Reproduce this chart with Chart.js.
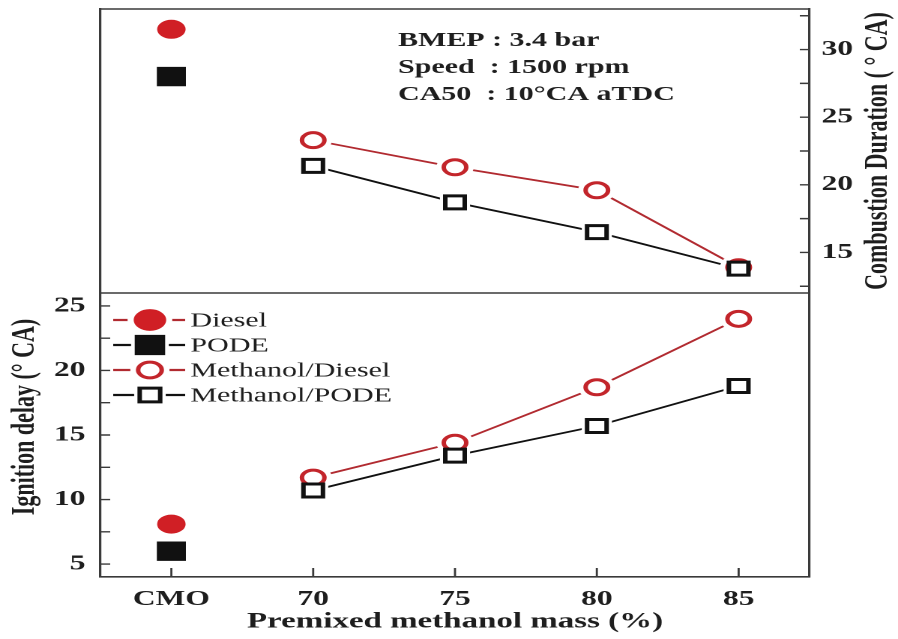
<!DOCTYPE html>
<html>
<head>
<meta charset="utf-8">
<script src="https://cdn.jsdelivr.net/npm/chart.js"></script>
<style>
  html, body { margin: 0; padding: 0; background: #fff; overflow: hidden; }
  #wrap { width: 599px; height: 639px; transform: scaleX(1.49917); transform-origin: 0 0; }
  canvas { display: block; }
</style>
</head>
<body>
<div id="wrap"><canvas id="c" width="599" height="639"></canvas></div>
<script>
// Premixed methanol mass categories (CMO = conventional mode operation)
const categories = ['CMO', '70', '75', '80', '85'];

// Combustion duration (°CA) – upper panel, right axis
const durDiesel       = [31.5, null, null, null, null];
const durPode         = [28.0, null, null, null, null];
const durMethDiesel   = [null, 23.3, 21.3, 19.6, 13.9];
const durMethPode     = [null, 21.4, 18.7, 16.5, 13.8];

// Ignition delay (°CA) – lower panel, left axis
const delayDiesel     = [8.1, null, null, null, null];
const delayPode       = [6.0, null, null, null, null];
const delayMethDiesel = [null, 11.7, 14.4, 18.7, 24.0];
const delayMethPode   = [null, 10.7, 13.4, 15.7, 18.8];

// Axis ticks and visible ranges of each panel
const durationTicks = [15, 20, 25, 30];
const durationMinor = [12.5, 17.5, 22.5, 27.5, 32.5];
const delayTicks    = [5, 10, 15, 20, 25];
const delayMinor    = [7.5, 12.5, 17.5, 22.5];
const durationRange = [12, 33];
const delayRange    = [4, 26];

const seriesNames = ['Diesel', 'PODE', 'Methanol/Diesel', 'Methanol/PODE'];
const conditions  = ['BMEP : 3.4 bar', 'Speed  : 1500 rpm', 'CA50  : 10\u00B0CA aTDC'];

const RED = '#d01f25', RING = '#c3252b', LINE_RED = '#b12a30', BLACK = '#111111', AXIS = '#3a3a3a', TEXT = '#1e1e1e';
const SERIF = "'Liberation Serif', 'Times New Roman', serif";

const markerStyles = [
  { pointStyle: 'circle', radius: 9,   backgroundColor: RED,    borderColor: RED,   borderWidth: 1, line: LINE_RED, order: 3 },
  { pointStyle: 'rect',   radius: 13,  backgroundColor: BLACK,  borderColor: BLACK, borderWidth: 1, line: BLACK,    order: 2 },
  { pointStyle: 'circle', radius: 7.5, backgroundColor: '#fff', borderColor: RING,  borderWidth: 3, line: LINE_RED, order: 1 },
  { pointStyle: 'rect',   radius: 9.2, backgroundColor: '#fff', borderColor: BLACK, borderWidth: 3, line: BLACK,    order: 0 }
];
const HALO = 3.5;   // white gap between connecting lines and symbols

const durationSeries = [durDiesel, durPode, durMethDiesel, durMethPode];
const delaySeries    = [delayDiesel, delayPode, delayMethDiesel, delayMethPode];

// Each series is drawn in three layers: connecting line, white halo, symbol.
function seriesLayers(name, values, st, axis) {
  const line = {
    label: name, data: values, yAxisID: axis, showLine: true, spanGaps: false, tension: 0,
    borderColor: st.line, borderWidth: 1.8, pointRadius: 0, order: 20
  };
  const halo = {
    label: name, data: values, yAxisID: axis, showLine: false,
    pointStyle: st.pointStyle, pointRadius: st.radius + st.borderWidth / 2 + HALO,
    pointBackgroundColor: '#ffffff', pointBorderWidth: 0, order: 10
  };
  const marks = {
    label: name, data: values, yAxisID: axis, showLine: false,
    pointStyle: st.pointStyle, pointRadius: st.radius,
    pointBackgroundColor: st.backgroundColor, pointBorderColor: st.borderColor,
    pointBorderWidth: st.borderWidth, order: st.order
  };
  return [line, halo, marks];
}

const datasets = [];
seriesNames.forEach((n, i) => {
  datasets.push(...seriesLayers(n, durationSeries[i], markerStyles[i], 'yR'));
  datasets.push(...seriesLayers(n, delaySeries[i], markerStyles[i], 'yL'));
});

function markerPath(ctx, style, r, x, y) {
  ctx.beginPath();
  if (style === 'circle') {
    ctx.arc(x, y, r, 0, Math.PI * 2);
  } else {
    const h = r * Math.SQRT1_2;
    ctx.rect(x - h, y - h, 2 * h, 2 * h);
  }
}

function drawLegendMarker(ctx, st, x, y, k) {
  ctx.save();
  markerPath(ctx, st.pointStyle, (st.radius + st.borderWidth / 2 + HALO) * k, x, y);
  ctx.fillStyle = '#fff';
  ctx.fill();
  markerPath(ctx, st.pointStyle, st.radius * k, x, y);
  ctx.fillStyle = st.backgroundColor;
  ctx.fill();
  ctx.lineWidth = st.borderWidth;
  ctx.strokeStyle = st.borderColor;
  ctx.stroke();
  ctx.restore();
}

const panelPlugin = {
  id: 'panels',
  afterDraw(chart) {
    const { ctx, chartArea: a, scales } = chart;
    const yR = scales.yR, yL = scales.yL, x = scales.x;
    ctx.save();
    ctx.strokeStyle = AXIS;
    ctx.lineWidth = 1.6;
    // top edge and the divider between the two panels
    const divY = yR.getPixelForValue(durationRange[0]);
    ctx.beginPath();
    ctx.moveTo(a.left, a.top); ctx.lineTo(a.right, a.top);
    ctx.moveTo(a.left, divY); ctx.lineTo(a.right, divY);
    ctx.stroke();

    // inward tick marks
    ctx.lineWidth = 1.4;
    ctx.beginPath();
    durationTicks.concat(durationMinor).forEach(v => {
      const py = yR.getPixelForValue(v);
      ctx.moveTo(a.right, py); ctx.lineTo(a.right - 6.5, py);
    });
    delayTicks.concat(delayMinor).forEach(v => {
      const py = yL.getPixelForValue(v);
      ctx.moveTo(a.left, py); ctx.lineTo(a.left + 6.5, py);
    });
    categories.forEach((c, i) => {
      const px = x.getPixelForValue(i);
      ctx.moveTo(px, a.bottom); ctx.lineTo(px, a.bottom - 9);
    });
    ctx.stroke();

    // rotated axis titles
    ctx.fillStyle = TEXT;
    ctx.font = 'bold 22px ' + SERIF;
    ctx.textAlign = 'center';
    ctx.textBaseline = 'middle';
    ctx.save();
    ctx.translate(586, 151);
    ctx.rotate(-Math.PI / 2);
    ctx.fillText('Combustion Duration ( \u00B0 CA)', 0, 0);
    ctx.restore();
    ctx.save();
    ctx.translate(17, 417);
    ctx.rotate(-Math.PI / 2);
    ctx.fillText('Ignition delay (\u00B0 CA)', 0, 0);
    ctx.restore();

    // operating conditions
    ctx.textAlign = 'left';
    ctx.font = 'bold 20px ' + SERIF;
    conditions.forEach((t, i) => ctx.fillText(t, 265.5, 41 + i * 27));

    // legend
    ctx.font = '20px ' + SERIF;
    seriesNames.forEach((n, i) => {
      const st = markerStyles[i];
      const ly = 320 + i * 25;
      ctx.strokeStyle = st.line;
      ctx.lineWidth = 2.2;
      ctx.beginPath();
      ctx.moveTo(75.5, ly); ctx.lineTo(123.5, ly);
      ctx.stroke();
      drawLegendMarker(ctx, st, 100, ly, i === 0 ? 1.15 : 1.05);
      ctx.fillStyle = TEXT;
      ctx.fillText(n, 127, ly + 1);
    });
    ctx.restore();
  }
};

function build() {
  const tickFont = { family: SERIF, weight: 'bold', size: 21 };
  const durSpan = durationRange[1] - durationRange[0];
  const delaySpan = delayRange[1] - delayRange[0];
  new Chart(document.getElementById('c'), {
    type: 'line',
    data: { labels: categories, datasets },
    plugins: [panelPlugin],
    options: {
      responsive: false,
      devicePixelRatio: 2,
      animation: false,
      events: [],
      layout: { autoPadding: false, padding: { top: 9, left: 0, right: 0, bottom: 0 } },
      plugins: { legend: { display: false }, tooltip: { enabled: false } },
      scales: {
        x: {
          type: 'category',
          offset: true,
          grid: { display: false, drawTicks: false },
          border: { display: true, color: AXIS, width: 1.6 },
          ticks: { font: tickFont, color: TEXT, padding: 10, maxRotation: 0 },
          title: { display: true, text: 'Premixed methanol mass (%)', font: { family: SERIF, weight: 'bold', size: 22 }, color: TEXT, padding: { top: 0, bottom: 4 } },
          afterFit(s) { s.height = 62; s.paddingLeft = 0; s.paddingRight = 0; }
        },
        yL: {
          position: 'left',
          min: delayRange[0],
          max: delayRange[1] + delaySpan,
          grid: { display: false, drawTicks: false },
          border: { display: true, color: AXIS, width: 1.6 },
          ticks: { font: tickFont, color: TEXT, padding: 10 },
          afterBuildTicks(s) { s.ticks = delayTicks.map(v => ({ value: v })); },
          afterFit(s) { s.width = 67; s.paddingTop = 0; s.paddingBottom = 0; }
        },
        yR: {
          position: 'right',
          min: durationRange[0] - durSpan,
          max: durationRange[1],
          grid: { display: false, drawTicks: false },
          border: { display: true, color: AXIS, width: 1.6 },
          ticks: { font: tickFont, color: TEXT, padding: 8 },
          afterBuildTicks(s) { s.ticks = durationTicks.map(v => ({ value: v })); },
          afterFit(s) { s.width = 59; s.paddingTop = 0; s.paddingBottom = 0; }
        }
      }
    }
  });
}

Promise.all([
  document.fonts.load('bold 21px "Liberation Serif"'),
  document.fonts.load('20px "Liberation Serif"')
]).then(build, build);
</script>
</body>
</html>
